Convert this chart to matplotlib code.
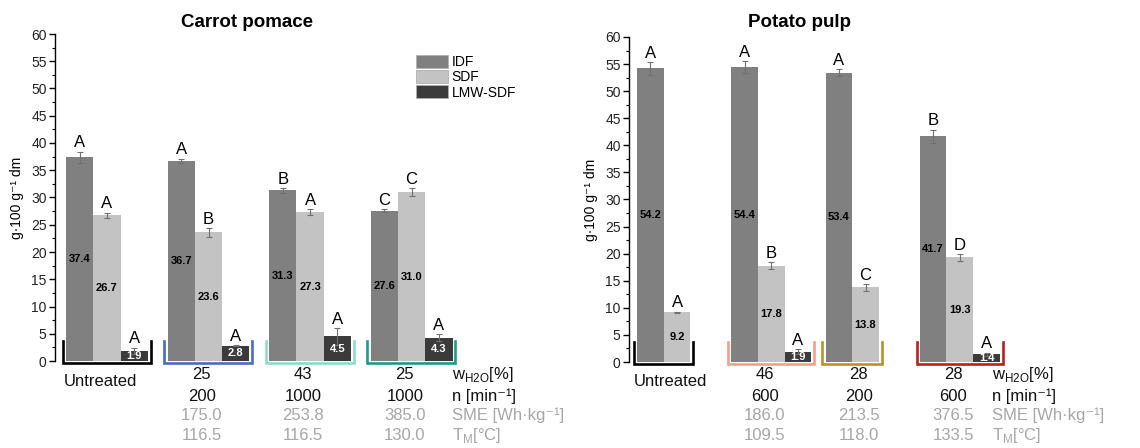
import matplotlib
matplotlib.use("Agg")
import matplotlib.pyplot as plt
from matplotlib.patches import Patch

plt.rcParams['font.family'] = ['Liberation Sans', 'DejaVu Sans']
plt.rcParams['mathtext.fontset'] = 'custom'
plt.rcParams['mathtext.rm'] = 'Liberation Sans'

# ---- data ----
series = ["IDF", "SDF", "LMW-SDF"]
colors = ["#808080", "#c3c3c3", "#3b3b3b"]

carrot_idf = [37.4, 36.7, 31.3, 27.6]
carrot_idf_err = [1.0, 0.4, 0.4, 0.2]
carrot_sdf = [26.7, 23.6, 27.3, 31.0]
carrot_sdf_err = [0.5, 0.8, 0.5, 0.7]
carrot_lmw = [1.9, 2.8, 4.5, 4.3]
carrot_lmw_err = [0.55, 0.1, 1.5, 0.6]
carrot_let_idf = ["A", "A", "B", "C"]
carrot_let_sdf = ["A", "B", "A", "C"]
carrot_let_lmw = ["A", "A", "A", "A"]
carrot_brackets = ["black", "#4a6cbf", "#8fd9c9", "#1b9a87"]

potato_idf = [54.2, 54.4, 53.4, 41.7]
potato_idf_err = [1.2, 1.1, 0.6, 1.2]
potato_sdf = [9.2, 17.8, 13.8, 19.3]
potato_sdf_err = [0.1, 0.6, 0.6, 0.6]
potato_lmw = [None, 1.9, None, 1.4]
potato_lmw_err = [None, 0.5, None, 0.3]
potato_let_idf = ["A", "A", "A", "B"]
potato_let_sdf = ["A", "B", "C", "D"]
potato_let_lmw = [None, "A", None, "A"]
potato_brackets = ["black", "#f0a08c", "#b8902e", "#b42222"]

row_labels = [r"w$_{\mathregular{H2O}}$[%]", "n [min\u207b\u00b9]",
              "SME [Wh\u00b7kg\u207b\u00b9]", r"T$_{\mathregular{M}}$[°C]"]
carrot_params = [["25", "43", "25"], ["200", "1000", "1000"],
                 ["175.0", "253.8", "385.0"], ["116.5", "116.5", "130.0"]]
potato_params = [["46", "28", "28"], ["600", "200", "600"],
                 ["186.0", "213.5", "376.5"], ["109.5", "118.0", "133.5"]]

W, H = 1140, 448
fig = plt.figure(figsize=(W / 100, H / 100), dpi=100)


def make_ax(left_px, zero_px, top_px, right_px, x0_px, unit_px):
    ax = fig.add_axes([left_px / W, (H - zero_px) / H,
                       (right_px - left_px) / W, (zero_px - top_px) / H])
    ax.set_xlim((left_px - x0_px) / unit_px, (right_px - x0_px) / unit_px)
    ax.set_ylim(0, 60)
    return ax


def panel(ax, gstep, idf, idf_e, sdf, sdf_e, lmw, lmw_e, l_idf, l_sdf, l_lmw,
          bcols, params, title, title_x, label_x):
    vals = [idf, sdf, lmw]
    errs = [idf_e, sdf_e, lmw_e]
    lets = [l_idf, l_sdf, l_lmw]
    for g in range(4):
        x0 = g * gstep
        nb = 0
        for j in range(3):
            v = vals[j][g]
            if v is None:
                continue
            nb += 1
            x = x0 + j
            ax.bar(x, v, width=1.0, color=colors[j], edgecolor='none', zorder=2)
            ax.errorbar(x, v, yerr=errs[j][g], fmt='none', ecolor='#707070',
                        elinewidth=0.8, capsize=2.5, capthick=0.8, zorder=3)
            tc = 'white' if j == 2 else 'black'
            ax.text(x, v / 2, f"{v:.1f}", ha='center', va='center', fontsize=8,
                    fontweight='bold', color=tc, zorder=4)
            ax.annotate(lets[j][g], (x, v + errs[j][g]), xytext=(0, 1),
                        textcoords='offset points', ha='center', va='bottom',
                        fontsize=12, annotation_clip=False)
        # coloured bracket under each group
        bl = x0 - 0.62
        br = x0 + nb - 0.4
        ax.plot([bl, bl, br, br], [3.7, -0.45, -0.45, 3.7], color=bcols[g],
                lw=1.9, clip_on=False, zorder=5, solid_joinstyle='miter')
    tr = matplotlib.transforms.blended_transform_factory(ax.transData, fig.transFigure)
    base = [379, 401, 420, 440]
    rc = ['#111111', '#111111', '#a6a6a6', '#a6a6a6']
    ax.text(0.75, 1 - 386 / H, "Untreated", transform=tr, ha='center',
            va='baseline', fontsize=12, color='#111111')
    for r in range(4):
        for g in range(1, 4):
            ax.text(g * gstep + 0.75, 1 - base[r] / H, params[r][g - 1], transform=tr,
                    ha='center', va='baseline', fontsize=12, color=rc[r])
        fig.text(label_x / W, 1 - base[r] / H, row_labels[r], ha='left',
                 va='baseline', fontsize=12, color=rc[r])
    fig.text(title_x / W, 1 - 27 / H, title, ha='center', va='baseline',
             fontsize=13.5, fontweight='bold')

    for s in ['top', 'right', 'bottom']:
        ax.spines[s].set_visible(False)
    ax.spines['left'].set_linewidth(1.0)
    ax.set_yticks(range(0, 61, 5))
    ax.set_yticks([i + 2.5 for i in range(0, 60, 5)], minor=True)
    ax.tick_params(axis='y', which='major', length=4, width=1, labelsize=10,
                   pad=2, labelcolor='#222222')
    ax.tick_params(axis='y', which='minor', length=2.5, width=0.8)
    ax.set_xticks([])
    ax.set_ylabel("g\u00b7100 g\u207b\u00b9 dm", fontsize=10, labelpad=5)


ax1 = make_ax(55, 361, 34, 460, 79.65, 27.3)
panel(ax1, 3.72, carrot_idf, carrot_idf_err, carrot_sdf, carrot_sdf_err,
      carrot_lmw, carrot_lmw_err, carrot_let_idf, carrot_let_sdf, carrot_let_lmw,
      carrot_brackets, carrot_params, "Carrot pomace", 247, 452)

ax2 = make_ax(629, 362, 37, 1040, 650.35, 26.7)
panel(ax2, 3.53, potato_idf, potato_idf_err, potato_sdf, potato_sdf_err,
      potato_lmw, potato_lmw_err, potato_let_idf, potato_let_sdf, potato_let_lmw,
      potato_brackets, potato_params, "Potato pulp", 800, 992)

handles = [Patch(facecolor=c, edgecolor='#b0b0b0', linewidth=0.6) for c in colors]
fig.legend(handles, series, loc='upper left', bbox_to_anchor=(416 / W, 1 - 55 / H),
           frameon=False, fontsize=10, handlelength=2.3, handleheight=1.1,
           labelspacing=0.05, borderpad=0, handletextpad=0.25, borderaxespad=0)

fig.savefig("out.png", dpi=100)
